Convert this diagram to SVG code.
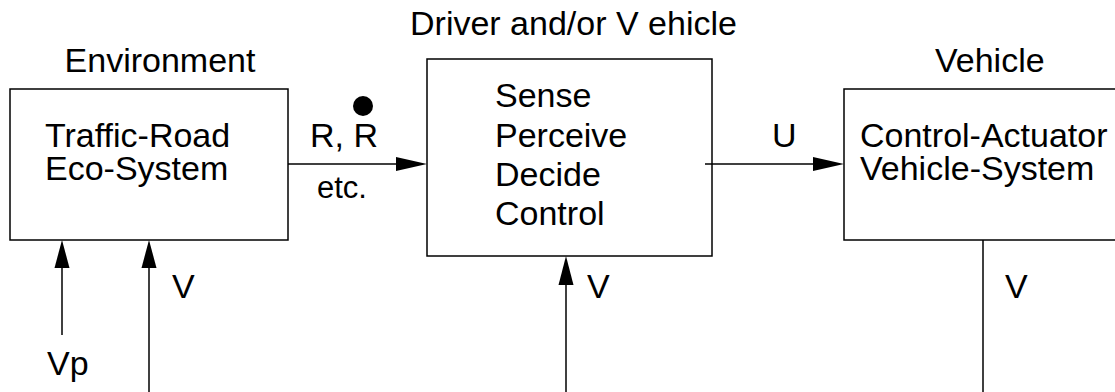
<svg xmlns="http://www.w3.org/2000/svg" width="1115" height="392" viewBox="0 0 1115 392">
<style>
text{font-family:"Liberation Sans",Arial,sans-serif;font-size:34px;fill:#000}
.box{fill:#fff;stroke:#000;stroke-width:1.5}
.ln{stroke:#000;stroke-width:1.5;fill:none}
.ah{fill:#000}
</style>
<rect width="1115" height="392" fill="#fff"/>
<g id="env">
<text x="160" y="72" text-anchor="middle">Environment</text>
<rect class="box" x="10" y="89" width="278" height="151"/>
<text x="45" y="147">Traffic-Road</text>
<text x="45" y="180">Eco-System</text>
</g>
<g id="driver">
<text x="410" y="35">Driver and/or V ehicle</text>
<rect class="box" x="427" y="59" width="285" height="197"/>
<text x="495" y="107">Sense</text>
<text x="495" y="147">Perceive</text>
<text x="495" y="186">Decide</text>
<text x="495" y="225">Control</text>
</g>
<g id="vehicle">
<text x="935" y="72">Vehicle</text>
<rect class="box" x="844" y="89" width="290" height="151"/>
<text x="860" y="147">Control-Actuator</text>
<text x="860" y="180">Vehicle-System</text>
</g>
<g id="connectors">
<line class="ln" x1="288" y1="164" x2="400" y2="164"/>
<polygon class="ah" points="396,157 427,164 396,171"/>
<text x="310" y="147">R, R</text>
<circle cx="363" cy="106" r="10" fill="#000"/>
<text x="317" y="198" style="font-size:31px">etc.</text>
<line class="ln" x1="705" y1="164" x2="816" y2="164"/>
<polygon class="ah" points="813,157 844,164 813,171"/>
<text x="772" y="147">U</text>
<line class="ln" x1="62" y1="335" x2="62" y2="265"/>
<polygon class="ah" points="54.5,268 62,240 69.5,268"/>
<text x="47" y="375">Vp</text>
<line class="ln" x1="149" y1="392" x2="149" y2="265"/>
<polygon class="ah" points="141.5,268 149,240 156.5,268"/>
<text x="172" y="298">V</text>
<line class="ln" x1="566" y1="392" x2="566" y2="280"/>
<polygon class="ah" points="558.5,285 566,256 573.5,285"/>
<text x="587" y="298">V</text>
<line class="ln" x1="983" y1="240" x2="983" y2="392"/>
<text x="1005" y="298">V</text>
</g>
</svg>
